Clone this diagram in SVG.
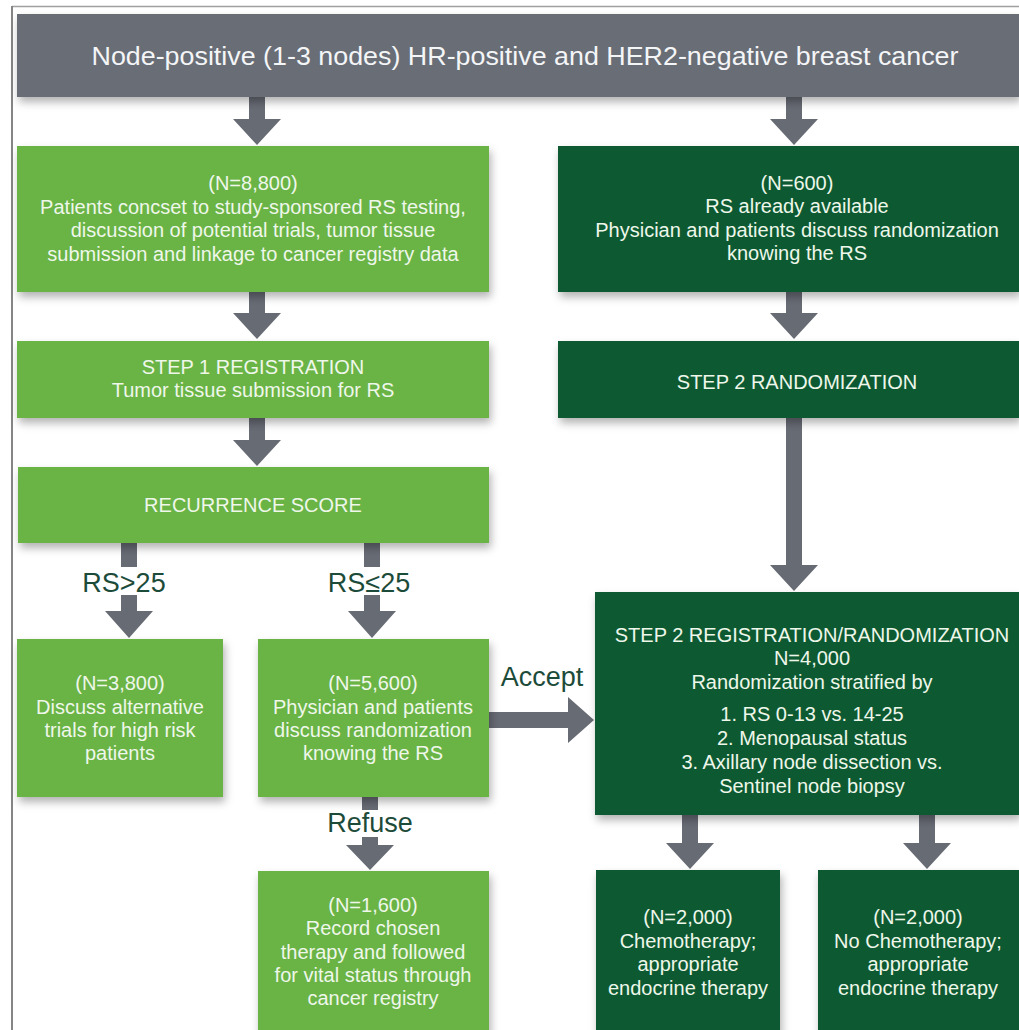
<svg xmlns="http://www.w3.org/2000/svg" width="1019" height="1030" viewBox="0 0 1019 1030">
<defs>
<filter id="sh" x="-10%" y="-10%" width="125%" height="130%">
<feDropShadow dx="2" dy="5" stdDeviation="4" flood-color="#000" flood-opacity="0.3"/>
</filter>
<style>
.lg{fill:#6ab344;filter:url(#sh)}
.dg{fill:#0d5a33;filter:url(#sh)}
.gr{fill:#676d76;filter:url(#sh)}
.ar{fill:#676b74}
.t{font-family:"Liberation Sans",Arial,sans-serif;font-size:20px;fill:#eef7ea;text-anchor:middle}
.big{font-size:26px;fill:#f4f5f6}
.lab{font-family:"Liberation Sans",Arial,sans-serif;font-size:27px;fill:#1d4b3a;text-anchor:middle}
</style>
</defs>
<rect width="1019" height="1030" fill="#fff"/>
<g id="frame">
<line x1="12" y1="6.5" x2="1019" y2="6.5" stroke="#a0a0a0" stroke-width="1.5"/>
<line x1="12" y1="6" x2="12" y2="1030" stroke="#858585" stroke-width="2"/>
</g>
<g id="connectors">
<polygon class="ar" points="249,97 265,97 265,119 281,119 257,145 233,119 249,119"/>
<polygon class="ar" points="786,97 802,97 802,119 818,119 794,145 770,119 786,119"/>
<polygon class="ar" points="249,292 265,292 265,313 281,313 257,339 233,313 249,313"/>
<polygon class="ar" points="786,292 802,292 802,313 818,313 794,339 770,313 786,313"/>
<polygon class="ar" points="249,418 265,418 265,440 281,440 257,466 233,440 249,440"/>
<polygon class="ar" points="786,418 802,418 802,565 818,565 794,591 770,565 786,565"/>
<rect class="ar" x="121" y="543" width="16" height="24"/>
<polygon class="ar" points="121,595 137,595 137,611 153,611 129,638 105,611 121,611"/>
<rect class="ar" x="364" y="543" width="16" height="24"/>
<polygon class="ar" points="364,595 380,595 380,611 396,611 372,638 348,611 364,611"/>
<polygon class="ar" points="489,712 568,712 568,697 594,720 568,743 568,728 489,728"/>
<rect class="ar" x="362" y="797" width="16" height="13"/>
<polygon class="ar" points="362,837 378,837 378,845 394,845 370,870 346,845 362,845"/>
<polygon class="ar" points="682,815 698,815 698,843 714,843 690,869 666,843 682,843"/>
<polygon class="ar" points="919,815 935,815 935,843 951,843 927,869 903,843 919,843"/>
<text class="lab" x="124" y="592">RS&gt;25</text>
<text class="lab" x="369" y="592">RS≤25</text>
<text class="lab" x="542" y="686" font-size="26">Accept</text>
<text class="lab" x="370" y="832" font-size="26">Refuse</text>
</g>
<g id="banner">
<rect class="gr" x="17" y="14" width="1002" height="83"/>
<text class="t big" x="525" y="65" textLength="867" lengthAdjust="spacingAndGlyphs">Node-positive (1-3 nodes) HR-positive and HER2-negative breast cancer</text>
</g>
<g id="n8800">
<rect class="lg" x="17" y="146" width="472" height="146"/>
<text class="t" x="253" y="190">(N=8,800)</text>
<text class="t" x="253" y="214">Patients concset to study-sponsored RS testing,</text>
<text class="t" x="253" y="237">discussion of potential trials, tumor tissue</text>
<text class="t" x="253" y="261">submission and linkage to cancer registry data</text>
</g>
<g id="n600">
<rect class="dg" x="558" y="146" width="461" height="146"/>
<text class="t" x="797" y="190">(N=600)</text>
<text class="t" x="797" y="213">RS already available</text>
<text class="t" x="797" y="237">Physician and patients discuss randomization</text>
<text class="t" x="797" y="260">knowing the RS</text>
</g>
<g id="step1">
<rect class="lg" x="17" y="341" width="472" height="77"/>
<text class="t" x="253" y="374">STEP 1 REGISTRATION</text>
<text class="t" x="253" y="397">Tumor tissue submission for RS</text>
</g>
<g id="step2rand">
<rect class="dg" x="558" y="341" width="461" height="77"/>
<text class="t" x="797" y="389">STEP 2 RANDOMIZATION</text>
</g>
<g id="rscore">
<rect class="lg" x="18" y="467" width="471" height="76"/>
<text class="t" x="253" y="512">RECURRENCE SCORE</text>
</g>
<g id="n3800">
<rect class="lg" x="17" y="639" width="206" height="158"/>
<text class="t" x="120" y="690">(N=3,800)</text>
<text class="t" x="120" y="714">Discuss alternative</text>
<text class="t" x="120" y="737">trials for high risk</text>
<text class="t" x="120" y="760">patients</text>
</g>
<g id="n5600">
<rect class="lg" x="258" y="639" width="231" height="158"/>
<text class="t" x="373" y="690">(N=5,600)</text>
<text class="t" x="373" y="714">Physician and patients</text>
<text class="t" x="373" y="737">discuss randomization</text>
<text class="t" x="373" y="760">knowing the RS</text>
</g>
<g id="step2reg">
<rect class="dg" x="595" y="592" width="424" height="223"/>
<text class="t" x="812" y="642">STEP 2 REGISTRATION/RANDOMIZATION</text>
<text class="t" x="812" y="665">N=4,000</text>
<text class="t" x="812" y="689">Randomization stratified by</text>
<text class="t" x="812" y="721">1. RS 0-13 vs. 14-25</text>
<text class="t" x="812" y="745">2. Menopausal status</text>
<text class="t" x="812" y="769">3. Axillary node dissection vs.</text>
<text class="t" x="812" y="793">Sentinel node biopsy</text>
</g>
<g id="n1600">
<rect class="lg" x="258" y="871" width="231" height="165"/>
<text class="t" x="373" y="912">(N=1,600)</text>
<text class="t" x="373" y="935">Record chosen</text>
<text class="t" x="373" y="959">therapy and followed</text>
<text class="t" x="373" y="982">for vital status through</text>
<text class="t" x="373" y="1005">cancer registry</text>
</g>
<g id="chemo">
<rect class="dg" x="596" y="870" width="184" height="166"/>
<text class="t" x="688" y="924">(N=2,000)</text>
<text class="t" x="688" y="948">Chemotherapy;</text>
<text class="t" x="688" y="971">appropriate</text>
<text class="t" x="688" y="995">endocrine therapy</text>
</g>
<g id="nochemo">
<rect class="dg" x="818" y="870" width="201" height="166"/>
<text class="t" x="918" y="924">(N=2,000)</text>
<text class="t" x="918" y="948">No Chemotherapy;</text>
<text class="t" x="918" y="971">appropriate</text>
<text class="t" x="918" y="995">endocrine therapy</text>
</g>
</svg>
